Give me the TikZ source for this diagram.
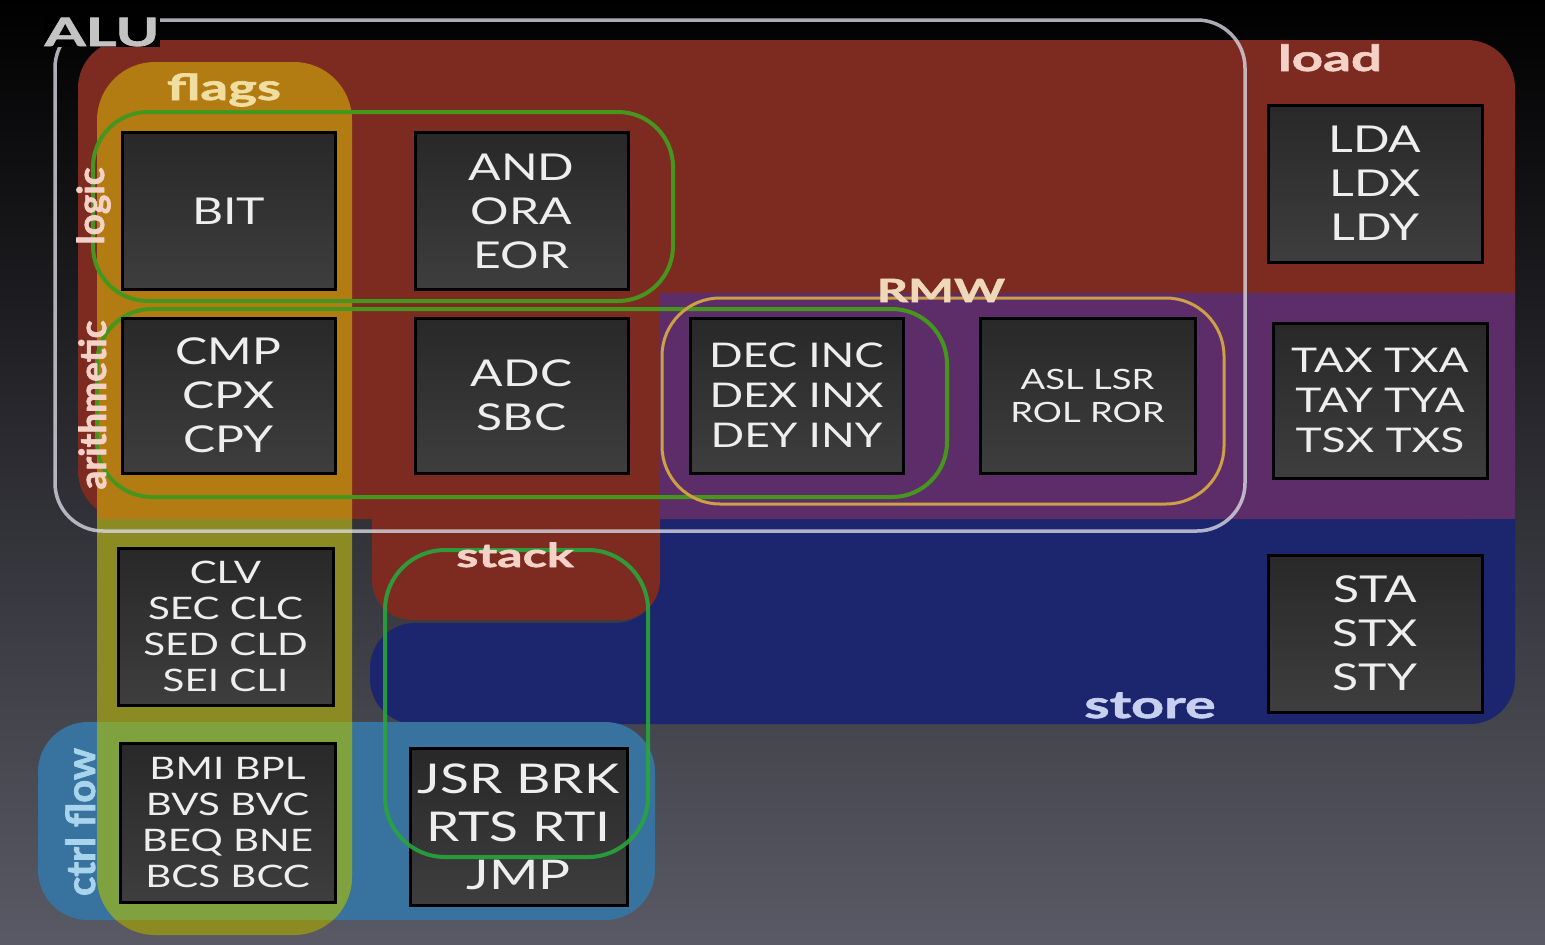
\documentclass[tikz,border=0pt]{standalone}
\usepackage{fontspec}
\setmainfont{Lato}
\newfontfamily\boxfont{Lato}[FakeStretch=1.3]
\newfontfamily\lblfont{Lato}[FakeStretch=1.52, BoldFeatures={FakeBold=1.8}]
\newfontfamily\rotfont{Lato}[BoldFeatures={FakeBold=1.8}]
\definecolor{bgmid}{RGB}{30,30,50}
\definecolor{bgbot}{RGB}{90,90,102}
\definecolor{redC}{RGB}{125,43,33}
\definecolor{purpleC}{RGB}{93,45,105}
\definecolor{navyC}{RGB}{28,38,110}
\definecolor{flagsO}{RGB}{178,124,18}
\definecolor{flagsOl}{RGB}{140,138,35}
\definecolor{flagsG}{RGB}{128,162,62}
\definecolor{ctrlC}{RGB}{55,115,158}
\definecolor{greenL}{RGB}{70,150,30}
\definecolor{stackG}{RGB}{40,165,60}
\definecolor{goldC}{RGB}{205,160,70}
\definecolor{aluC}{RGB}{215,215,225}
\definecolor{aluT}{RGB}{195,195,195}
\definecolor{boxtop}{RGB}{40,40,40}
\definecolor{boxbot}{RGB}{62,62,62}
\definecolor{boxtxt}{RGB}{238,238,238}
\definecolor{flagsT}{RGB}{240,222,160}
\definecolor{pinkT}{RGB}{245,210,200}
\definecolor{rmwT}{RGB}{238,216,184}
\definecolor{storeT}{RGB}{200,208,240}
\definecolor{ctrlT}{RGB}{168,212,236}
\newcommand{\fsA}{\boxfont\fontsize{37}{44}\selectfont}
\newcommand{\fsB}{\boxfont\fontsize{34}{40}\selectfont}
\newcommand{\fsC}{\boxfont\fontsize{31}{36}\selectfont}
\newcommand{\fsD}{\boxfont\fontsize{28}{33}\selectfont}
\newcommand{\fsE}{\boxfont\fontsize{41}{48}\selectfont}
\begin{document}
\begin{tikzpicture}[x=1pt,y=-1pt,
  opbox/.style={draw=black, line width=3pt, top color=boxtop, bottom color=boxbot,
    minimum width=213pt, minimum height=157pt, inner sep=0pt, text=boxtxt, align=center},
  lbl/.style={inner sep=0pt, anchor=base},
  rotlbl/.style={inner sep=0pt, anchor=base, rotate=90}]
\useasboundingbox (0,0) rectangle (1545,945);
\shade[top color=black, middle color=bgmid, bottom color=bgbot] (0,0) rectangle (1545,945);
% regions
\fill[navyC, rounded corners=45] (660,470) -- (1515,470) -- (1515,724) -- (370,724) -- (370,623) -- (660,623) -- cycle;
\fill[redC, rounded corners=40] (372,480) rectangle (660,620);
\fill[redC, rounded corners=48] (78,40) rectangle (1515,519);
\fill[purpleC] (660,293) rectangle (1515,519);
\fill[ctrlC, rounded corners=50] (38,722) rectangle (655,920);
\begin{scope}
\clip (0,0) rectangle (1545,519);
\fill[flagsO, rounded corners=58] (97,62) rectangle (352,935);
\end{scope}
\begin{scope}
\clip (0,519) rectangle (1545,945);
\fill[flagsOl, rounded corners=58] (97,62) rectangle (352,935);
\end{scope}
\begin{scope}
\clip[rounded corners=50] (38,722) rectangle (655,920);
\fill[flagsG, rounded corners=58] (97,62) rectangle (352,935);
\end{scope}
% outlines
\draw[aluC, line width=3.5, opacity=0.8, rounded corners=48] (55,20) rectangle (1245,531);
\draw[greenL, line width=4, rounded corners=55] (93,112) rectangle (673,301);
\draw[greenL, line width=4, rounded corners=55] (97,309) rectangle (947,497);
\draw[goldC, line width=3, rounded corners=58] (662,298) rectangle (1224,504);
% boxes
\node[opbox, font=\fsA] (bit) at (228.5,211) {BIT};
\node[opbox, font=\fsA] (andora) at (521.5,211) {AND\\ORA\\EOR};
\node[opbox, font=\fsA, minimum width=214pt] (lda) at (1375,183.5) {LDA\\LDX\\LDY};
\node[opbox, font=\fsA, minimum height=155pt] (cmp) at (228.5,395.5) {CMP\\CPX\\CPY};
\node[opbox, font=\fsA, minimum height=155pt] (adc) at (521.5,395.5) {ADC\\SBC};
\node[opbox, font=\fsB, minimum height=155pt] (dec) at (796.5,395.5) {DEC INC\\DEX INX\\DEY INY};
\node[opbox, font=\fsD, minimum width=215pt, minimum height=155pt] (asl) at (1087.5,395.5) {ASL LSR\\ROL ROR};
\node[opbox, font=\fsB, minimum width=214pt, minimum height=155pt] (tax) at (1380,400.5) {TAX TXA\\TAY TYA\\TSX TXS};
\node[opbox, font=\fsC, minimum width=215pt] (clv) at (225.5,626.5) {CLV\\SEC CLC\\SED CLD\\SEI CLI};
\node[opbox, font=\fsA, minimum width=214pt] (sta) at (1375,633.5) {STA\\STX\\STY};
\node[opbox, font=\fsC, minimum width=215pt, minimum height=159pt] (bmi) at (227.5,822.5) {BMI BPL\\BVS BVC\\BEQ BNE\\BCS BCC};
\node[opbox, font=\fsE, minimum width=217pt] (jsr) at (518.5,826.5) {JSR BRK\\RTS RTI\\JMP};
\draw[stackG, line width=4, opacity=0.9, rounded corners=60] (385,550) rectangle (648,857);
% labels
\node[lbl, text=aluT, fill=black, inner sep=1pt, font=\lblfont\bfseries\fontsize{39}{39}\selectfont] (alulbl) at (102,46) {ALU};
\node[lbl, text=flagsT, font=\lblfont\bfseries\fontsize{36}{36}\selectfont] (flagslbl) at (224,100) {flags};
\node[lbl, text=pinkT, font=\lblfont\bfseries\fontsize{36}{36}\selectfont] (loadlbl) at (1330,71) {load};
\node[lbl, text=rmwT, font=\lblfont\bfseries\fontsize{32}{32}\selectfont] (rmwlbl) at (941,302) {RMW};
\node[lbl, text=pinkT, font=\lblfont\bfseries\fontsize{33}{33}\selectfont] (stacklbl) at (515,567) {stack};
\node[lbl, text=storeT, font=\lblfont\bfseries\fontsize{38}{38}\selectfont] (storelbl) at (1150,718) {store};
\node[rotlbl, text=pinkT, font=\rotfont\bfseries\fontsize{37}{37}\selectfont] (logiclbl) at (104,206) {logic};
\node[rotlbl, text=pinkT, font=\rotfont\bfseries\fontsize{37}{37}\selectfont] (arithlbl) at (106,405) {arithmetic};
\node[rotlbl, text=ctrlT, font=\rotfont\bfseries\fontsize{40}{40}\selectfont] (ctrllbl) at (95,822) {ctrl flow};
\end{tikzpicture}
\end{document}
